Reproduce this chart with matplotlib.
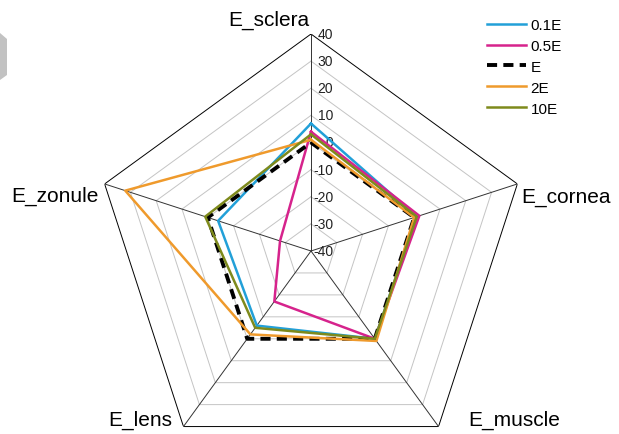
import matplotlib.pyplot as plt
from matplotlib.patches import Polygon
import numpy as np

plt.rcParams['font.family'] = ['Liberation Sans', 'DejaVu Sans']

# axes of the radar, clockwise from the top
categories = ['E_sclera', 'E_cornea', 'E_muscle', 'E_lens', 'E_zonule']
series_names = ['0.1E', '0.5E', 'E', '2E', '10E']

# relative change per parameter
v_01E = [7, 1, 0, -6, -4]
v_05E = [4, 2, 0, -17, -28]
v_E = [0, 0, 0, 0, 0]
v_2E = [1, 0, 1, -2, 32]
v_10E = [3, 1, 0, -5, 1]

ring_values = [-30, -20, -10, 0, 10, 20, 30, 40]
tick_labels = ['40', '30', '20', '10', '0', '-10', '-20', '-30', '-40']
tick_values = [40, 30, 20, 10, 0, -10, -20, -30, -40]

W, H = 619, 435
fig = plt.figure(figsize=(W / 100, H / 100), dpi=100)

# radar centre at pixel (311, 252), radius 217 px
cx, cy, R = 311, 252, 217
ax = fig.add_axes([(cx - R) / W, (H - cy - R) / H, 2 * R / W, 2 * R / H],
                  projection='polar')
ax.set_theta_zero_location('N')
ax.set_theta_direction(-1)
ax.set_ylim(-40, 40)
ax.grid(False)
ax.set_xticks([])
ax.set_yticks([])
ax.spines['polar'].set_visible(False)
ax.patch.set_alpha(0)

n = len(categories)
theta = np.arange(n) * 2 * np.pi / n
theta_c = np.append(theta, theta[0])

# pentagon gridlines
for r in ring_values:
    col = 'black' if r == 40 else '#c4c4c4'
    ax.plot(theta_c, [r] * (n + 1), color=col, lw=0.7, zorder=1)
for t in theta:
    ax.plot([t, t], [-40, 40], color='#333333', lw=0.7, zorder=1)

# radial tick labels along the top spoke
for lab, v in zip(tick_labels, tick_values):
    ax.annotate(lab, xy=(0, v), xytext=(16, 0), textcoords='offset points',
                ha='right', va='center', fontsize=10, color='#222222')

series = [
    ('0.1E', v_01E, dict(color='#22a0d8', lw=1.8)),
    ('0.5E', v_05E, dict(color='#d6238c', lw=1.8)),
    ('E', v_E, dict(color='black', lw=2.8, ls=(0, (2.6, 1.6)))),
    ('2E', v_2E, dict(color='#ef9a2c', lw=1.8)),
    ('10E', v_10E, dict(color='#7e8a1c', lw=1.8)),
]
for name, vals, style in series:
    ax.plot(theta_c, vals + vals[:1], label=name, zorder=3, **style)

# category labels
label_pos = [(269, 20), (566, 198), (514, 420), (140, 420), (55, 196)]
for lab, (px, py) in zip(categories, label_pos):
    fig.text(px / W, 1 - py / H, lab, ha='center', va='center', fontsize=15)

fig.legend(loc='upper left', bbox_to_anchor=(487 / W, 1 - 19 / H),
           frameon=False, fontsize=11, handlelength=2.55, handletextpad=0.3,
           labelspacing=0.45, borderaxespad=0, borderpad=0)

# grey shape at the left edge
pts = np.array([(0, 34), (7, 40), (7, 76), (0, 81)], dtype=float)
pts[:, 0] /= W
pts[:, 1] = 1 - pts[:, 1] / H
fig.patches.append(Polygon(pts, closed=True, transform=fig.transFigure,
                           facecolor='#c2c2c2', edgecolor='none'))

fig.savefig('out.png', dpi=100)
